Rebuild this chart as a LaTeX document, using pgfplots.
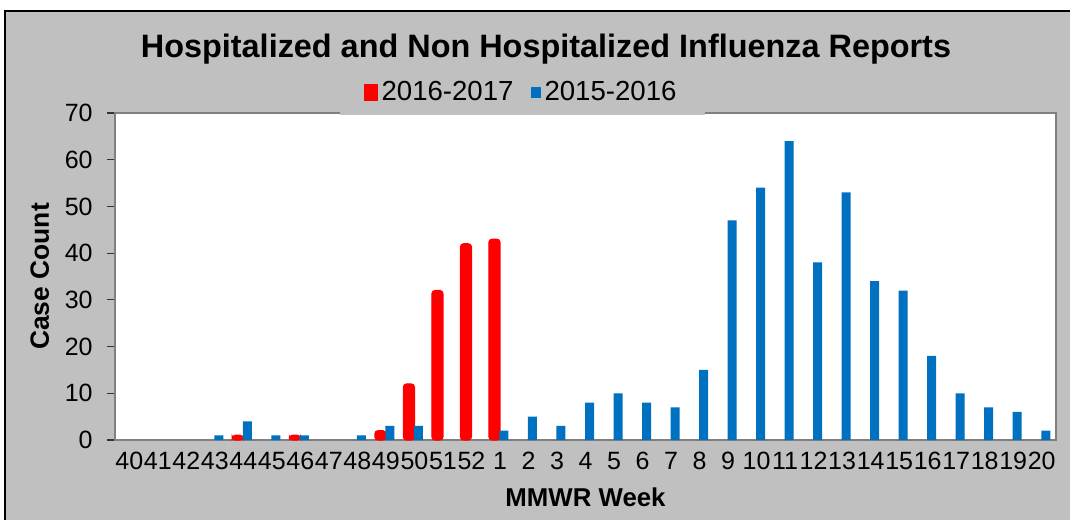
\documentclass[border=0pt]{standalone}
\usepackage{pgfplots}
\pgfplotsset{compat=1.18}
\usepackage{fontspec}
\setmainfont{Liberation Sans}
\definecolor{bg}{HTML}{C0C0C0}
\definecolor{bred}{HTML}{FF0000}
\definecolor{bblue}{HTML}{0070C0}
\definecolor{frm}{HTML}{808080}
\begin{document}
\begin{tikzpicture}
\useasboundingbox (0,0) rectangle (535pt,260pt);
\fill[white] (0,0) rectangle (535pt,260pt);
\fill[bg] (2.5pt,0) rectangle (535pt,254.5pt);
\draw[black, line width=0.7pt] (2.5pt,0) -- (2.5pt,254.5pt) -- (535pt,254.5pt);
\begin{axis}[
  at={(57.5pt,40pt)}, anchor=south west, scale only axis,
  width=470.5pt, height=163.5pt,
  xmin=-0.5, xmax=32.5, ymin=0, ymax=70,
  ytick={0,10,...,70},
  xtick={0,...,32},
  xticklabels={40,41,42,43,44,45,46,47,48,49,50,51,52,1,2,3,4,5,6,7,8,9,10,11,12,13,14,15,16,17,18,19,20},
  axis background/.style={fill=white},
  axis line style={frm, line width=1.2pt},
  xtick style={draw=none},
  ytick pos=left, tick align=outside, major tick length=4pt,
  ytick style={black!80, line width=0.6pt},
  ticklabel style={font=\fontsize{12.5}{14}\selectfont},
  /pgf/number format/assume math mode=true,
  xticklabel style={inner sep=1pt, yshift=-1pt},
  yticklabel style={inner sep=1pt, xshift=-6pt},
  title={\bfseries Hospitalized and Non Hospitalized Influenza Reports},
  title style={at={(axis description cs:0.458,1.159)}, anchor=center, yshift=0pt, font=\fontsize{16.2}{18}\selectfont},
  xlabel={\bfseries MMWR Week},
  xlabel style={at={(axis description cs:0.5,-0.174)}, anchor=center, font=\fontsize{12.9}{14}\selectfont},
  ylabel={\bfseries Case Count},
  ylabel style={at={(axis description cs:-0.08,0.5)}, anchor=center, font=\fontsize{13.2}{14}\selectfont},
  legend style={at={(axis description cs:0.433,1)}, anchor=south, yshift=-1pt,
    fill=bg, draw=none, font=\fontsize{13.8}{15}\selectfont,
    /tikz/every even column/.append style={column sep=6.5pt},
    inner xsep=12pt, inner ysep=3.5pt},
  legend columns=2,
]
\addplot[ybar, bar width=5.5pt, bar shift=-2.75pt, fill=bred, draw=bred, line width=0.6pt, rounded corners=1.6pt,
  legend image code/.code={\fill[bred, sharp corners] (0pt,-4pt) rectangle (6pt,4pt);}]
coordinates {(4,1) (6,1) (9,2) (10,12) (11,32) (12,42) (13,43)};
\addlegendentry{2016-2017}
\addplot[ybar, bar width=4.5pt, bar shift=2pt, fill=bblue, draw=none,
  legend image code/.code={\fill[bblue] (0pt,-2.8pt) rectangle (5pt,2.8pt);}]
coordinates {(3,1) (4,4) (5,1) (6,1) (8,1) (9,3) (10,3) (13,2) (14,5) (15,3) (16,8) (17,10) (18,8) (19,7) (20,15) (21,47) (22,54) (23,64) (24,38) (25,53) (26,34) (27,32) (28,18) (29,10) (30,7) (31,6) (32,2)};
\addlegendentry{2015-2016}
\end{axis}
\end{tikzpicture}
\end{document}
